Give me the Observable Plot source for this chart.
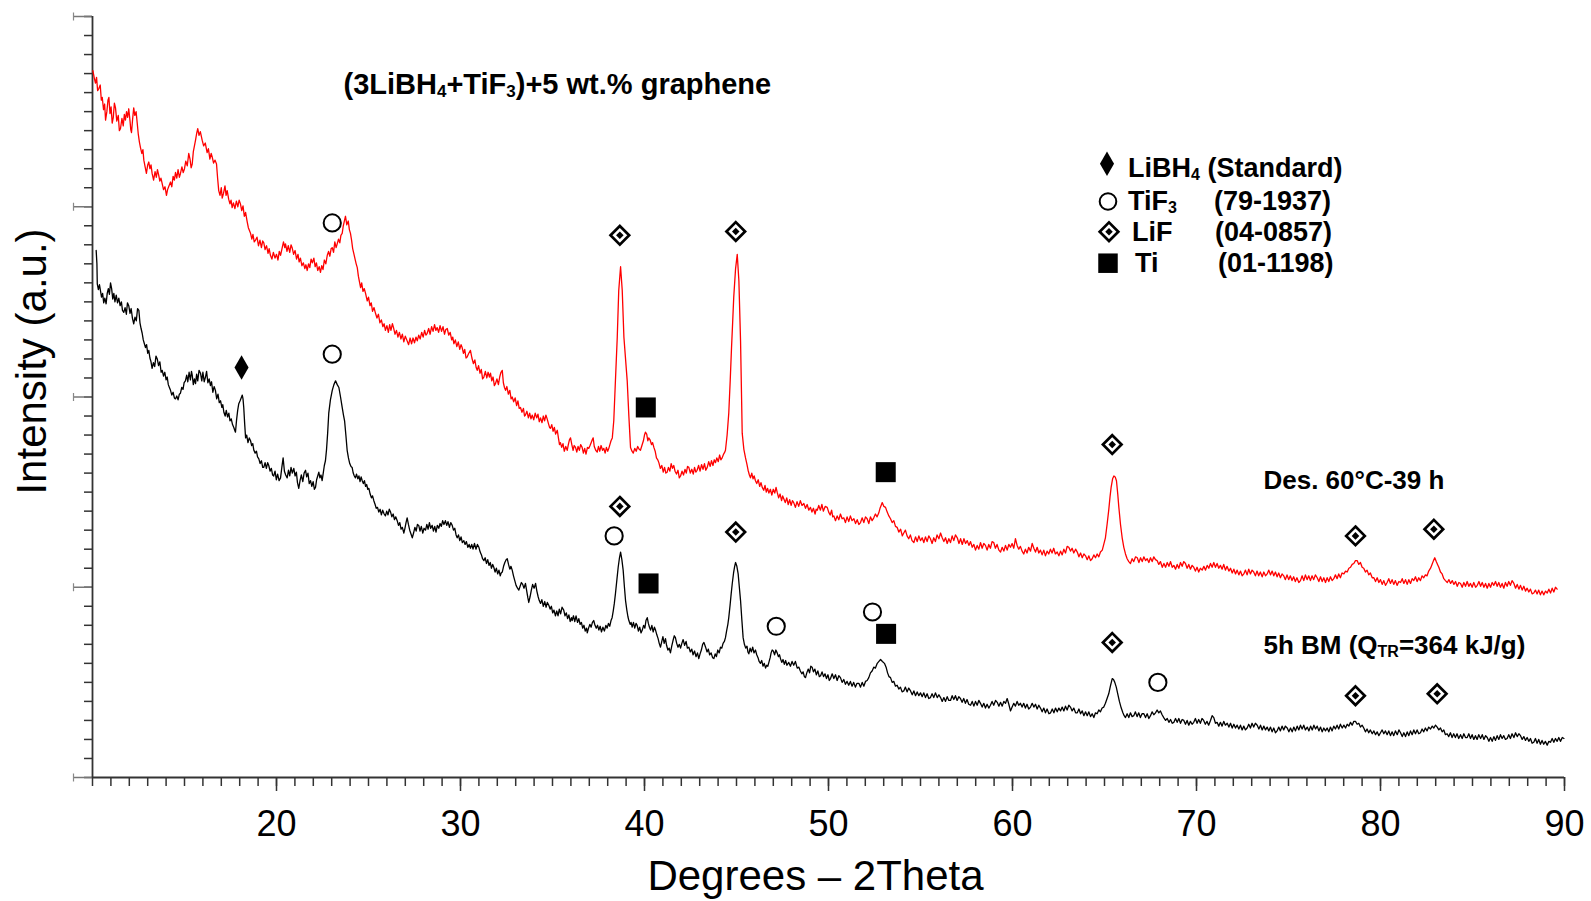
<!DOCTYPE html>
<html><head><meta charset="utf-8">
<script src="https://cdn.jsdelivr.net/npm/d3@7"></script>
<script src="https://cdn.jsdelivr.net/npm/@observablehq/plot@0.6"></script>
<style>
html,body{margin:0;padding:0;background:#fff;}
#chart{position:relative;width:1591px;height:901px;}
</style></head><body><div id="chart"></div>
<script>
// ---------- DATA ----------
// Des. 60°C-39 h pattern (red), flat list: 2θ, intensity (a.u.), 2θ, intensity, ...
const desorbedXY = [
10.02,743,10.10,735,10.16,730,10.22,736,10.28,722,10.34,724,10.42,728,10.48,712,10.53,715,10.60,702,10.66,708,10.71,691,10.78,700,10.84,712,10.89,715,10.95,698,11.01,705,11.07,688,11.13,694,11.19,709,
11.25,704,11.32,690,11.40,696,11.46,680,11.52,682,11.60,693,11.67,685,11.73,697,11.79,691,11.85,700,11.91,694,11.97,703,12.04,690,12.08,681,12.12,678,12.18,692,12.24,704,12.30,696,12.37,700,12.43,688,
12.49,676,12.55,668,12.61,662,12.68,656,12.74,660,12.79,649,12.86,642,12.93,635,13.00,644,13.06,647,13.12,640,13.18,644,13.24,635,13.32,628,13.40,637,13.47,631,13.53,639,13.60,633,13.66,627,13.72,630,
13.79,624,13.86,618,13.94,621,14.02,612,14.08,618,14.16,622,14.24,626,14.31,621,14.38,632,14.45,628,14.51,636,14.58,630,14.65,639,14.72,631,14.78,635,14.86,642,14.93,636,15.00,640,15.07,648,15.15,643,
15.23,656,15.30,650,15.36,641,15.42,645,15.48,658,15.54,664,15.60,670,15.66,677,15.72,682,15.79,675,15.86,679,15.96,670,16.04,664,16.13,667,16.23,657,16.30,661,16.38,650,16.45,656,16.51,652,16.58,646,
16.66,649,16.74,645,16.80,630,16.86,617,16.93,612,17.00,620,17.05,609,17.12,614,17.20,622,17.26,612,17.32,617,17.40,608,17.47,603,17.53,607,17.59,599,17.66,604,17.74,598,17.82,606,17.90,600,17.97,607,
18.04,603,18.11,596,18.18,601,18.25,590,18.32,594,18.40,585,18.47,578,18.53,575,18.59,572,18.66,566,18.72,571,18.79,563,18.86,565,18.94,568,19.02,559,19.10,565,19.18,557,19.25,564,19.31,562,19.38,555,
19.46,559,19.54,551,19.60,556,19.67,549,19.75,545,19.83,552,19.92,546,20.00,550,20.08,544,20.15,553,20.22,549,20.30,556,20.38,563,20.45,557,20.49,561,20.57,553,20.64,559,20.72,552,20.79,560,20.85,557,
20.93,550,21.01,554,21.09,545,21.17,550,21.23,542,21.30,546,21.38,538,21.46,541,21.54,535,21.60,539,21.67,533,21.74,540,21.81,536,21.88,545,21.95,541,22.03,546,22.10,537,22.17,541,22.24,533,22.32,537,
22.39,531,22.46,538,22.53,534,22.60,544,22.68,540,22.76,549,22.83,553,22.90,548,22.97,556,23.03,557,23.10,552,23.17,563,23.24,557,23.30,561,23.37,566,23.44,562,23.50,570,23.57,572,23.63,580,23.70,586,
23.75,590,23.82,581,23.90,585,23.96,576,24.02,572,24.08,565,24.14,556,24.20,551,24.27,545,24.33,540,24.39,536,24.45,527,24.51,521,24.57,515,24.63,520,24.70,511,24.77,514,24.84,509,24.93,501,25.00,505,
25.08,496,25.15,499,25.22,490,25.30,494,25.38,488,25.46,483,25.54,487,25.62,478,25.70,481,25.78,474,25.85,477,25.92,470,26.00,475,26.08,468,26.15,476,26.22,470,26.30,477,26.36,473,26.44,466,26.52,470,
26.60,463,26.68,468,26.76,461,26.84,466,26.92,458,27.00,464,27.10,459,27.18,455,27.26,462,27.34,456,27.42,462,27.50,457,27.58,463,27.65,459,27.73,465,27.81,461,27.89,468,27.97,463,28.05,470,28.12,465,
28.19,467,28.27,472,28.35,466,28.43,474,28.51,469,28.59,476,28.66,470,28.73,473,28.81,468,28.89,475,28.97,469,29.05,474,29.13,466,29.20,471,29.28,472,29.36,465,29.44,468,29.52,460,29.58,463,29.64,456,
29.72,460,29.80,453,29.88,458,29.96,450,30.03,455,30.09,452,30.16,446,30.23,450,30.30,441,30.36,442,30.45,446,30.54,449,30.62,441,30.70,435,30.78,439,30.85,431,30.91,428,30.98,433,31.06,425,31.13,429,
31.20,419,31.27,421,31.35,427,31.43,420,31.50,426,31.57,421,31.63,425,31.70,417,31.77,421,31.84,412,31.90,414,31.98,419,32.06,413,32.13,421,32.20,426,32.27,428,32.33,415,32.39,410,32.45,407,32.52,411,
32.60,403,32.68,407,32.75,398,32.81,400,32.89,395,32.97,399,33.05,391,33.12,396,33.19,388,33.26,389,33.34,384,33.42,388,33.48,380,33.53,381,33.61,385,33.69,378,33.76,383,33.83,377,33.90,381,33.98,376,
34.06,383,34.14,378,34.21,382,34.28,374,34.35,378,34.43,373,34.50,380,34.57,375,34.64,381,34.71,377,34.78,372,34.84,368,34.89,367,34.96,371,35.03,364,35.10,368,35.17,361,35.26,365,35.33,356,35.38,350,
35.43,352,35.50,347,35.57,351,35.64,343,35.72,348,35.80,344,35.86,350,35.92,355,35.98,357,36.05,350,36.12,344,36.18,349,36.25,347,36.32,342,36.39,348,36.46,344,36.53,350,36.61,347,36.68,341,36.75,346,
36.82,340,36.90,347,36.97,346,37.04,349,37.10,352,37.16,355,37.21,357,37.27,348,37.35,344,37.43,342,37.50,348,37.57,343,37.64,349,37.72,344,37.79,346,37.86,341,37.93,347,38.00,343,38.06,346,38.12,350,
38.18,354,38.25,357,38.33,375,38.42,417,38.52,463,38.60,512,38.70,537,38.79,512,38.88,463,38.97,440,39.06,417,39.15,380,39.24,347,39.32,343,39.39,341,39.47,346,39.55,343,39.63,348,39.71,345,39.78,344,
39.86,349,39.94,354,40.00,360,40.05,363,40.12,361,40.18,354,40.23,357,40.30,355,40.38,350,40.44,352,40.51,347,40.58,343,40.65,336,40.72,334,40.78,331,40.86,325,40.94,328,41.02,321,41.09,326,41.16,320,
41.23,321,41.30,326,41.38,322,41.45,330,41.52,325,41.59,328,41.66,322,41.74,319,41.82,323,41.89,315,41.96,317,42.04,322,42.12,318,42.20,324,42.27,320,42.34,327,42.41,326,42.49,320,42.57,324,42.65,319,
42.72,326,42.79,321,42.86,323,42.94,328,43.02,322,43.10,329,43.18,324,43.26,330,43.33,323,43.41,326,43.49,332,43.57,327,43.64,333,43.72,328,43.79,334,43.86,331,43.93,336,44.01,332,44.08,339,44.15,334,
44.22,336,44.30,340,44.36,342,44.40,344,44.49,360,44.58,383,44.66,418,44.73,452,44.79,478,44.85,505,44.95,535,45.04,550,45.13,522,45.22,459,45.31,362,45.40,345,45.49,336,45.56,330,45.63,323,45.70,318,
45.76,315,45.83,320,45.90,314,45.96,317,46.03,312,46.10,309,46.18,313,46.26,306,46.33,310,46.40,305,46.48,302,46.55,307,46.62,300,46.69,304,46.76,299,46.84,303,46.92,297,47.00,303,47.08,299,47.15,305,
47.21,300,47.29,294,47.37,298,47.45,291,47.51,296,47.57,293,47.65,289,47.73,294,47.81,287,47.89,292,47.97,286,48.04,291,48.11,289,48.20,284,48.29,290,48.38,285,48.47,291,48.56,286,48.66,288,48.75,283,
48.84,287,48.93,281,49.02,284,49.10,279,49.18,283,49.27,277,49.33,282,49.39,281,49.47,286,49.56,281,49.64,287,49.72,280,49.82,285,49.93,284,50.01,279,50.09,276,50.17,281,50.23,274,50.29,275,50.38,270,
50.47,275,50.56,271,50.65,277,50.74,272,50.83,273,50.92,268,51.01,274,51.10,269,51.19,275,51.28,270,51.38,272,51.47,267,51.56,271,51.65,266,51.74,268,51.83,273,51.92,268,52.01,274,52.10,272,52.19,267,
52.28,274,52.37,270,52.46,273,52.55,277,52.64,274,52.73,278,52.80,283,52.86,286,52.92,289,53.01,285,53.10,284,53.19,279,53.28,275,53.37,272,53.46,268,53.55,270,53.64,264,53.73,263,53.82,258,53.92,261,
54.01,254,54.09,257,54.18,260,54.27,254,54.36,251,54.45,255,54.54,249,54.64,247,54.73,253,54.82,248,54.91,254,55.00,249,55.09,252,55.18,247,55.27,253,55.36,248,55.45,254,55.54,251,55.63,246,55.72,252,
55.81,248,55.90,255,56.00,251,56.09,257,56.18,252,56.27,248,56.36,252,56.45,246,56.54,251,56.63,247,56.72,254,56.81,249,56.90,255,57.00,252,57.09,246,57.18,251,57.27,245,57.36,251,57.45,246,57.54,249,
57.63,244,57.72,248,57.81,242,57.90,245,57.99,239,58.08,244,58.17,240,58.26,247,58.35,241,58.44,246,58.53,244,58.62,239,58.71,245,58.80,241,58.89,248,58.98,247,59.07,241,59.16,245,59.26,239,59.35,237,
59.44,242,59.53,238,59.62,244,59.71,239,59.80,245,59.89,242,59.98,246,60.07,241,60.16,251,60.25,244,60.34,240,60.43,243,60.52,238,60.61,235,60.70,240,60.79,236,60.88,242,60.98,238,61.07,246,61.16,241,
61.25,237,61.34,242,61.43,236,61.52,239,61.61,234,61.70,239,61.79,233,61.88,238,61.97,235,62.06,240,62.15,236,62.24,241,62.33,235,62.43,237,62.52,233,62.61,238,62.70,234,62.79,240,62.88,236,62.97,243,
63.06,242,63.15,238,63.24,241,63.33,236,63.43,240,63.52,237,63.61,232,63.70,236,63.79,231,63.88,235,63.97,233,64.06,229,64.15,233,64.24,228,64.33,230,64.42,234,64.51,231,64.60,235,64.69,232,64.78,237,
64.88,239,64.96,245,65.05,252,65.14,266,65.23,281,65.30,295,65.36,305,65.44,314,65.51,317,65.58,316,65.65,312,65.72,298,65.78,284,65.87,266,65.96,252,66.05,242,66.14,235,66.23,230,66.32,227,66.41,225,
66.50,230,66.59,227,66.69,232,66.78,231,66.87,226,66.96,231,67.05,227,67.14,232,67.23,228,67.32,230,67.41,226,67.50,231,67.59,227,67.68,232,67.77,229,67.86,228,67.95,224,68.04,227,68.14,221,68.23,225,
68.32,221,68.41,226,68.50,222,68.59,227,68.68,221,68.77,223,68.86,219,68.95,224,69.04,220,69.13,226,69.22,222,69.31,227,69.40,225,69.49,220,69.58,224,69.67,219,69.76,223,69.85,221,69.94,217,70.03,221,
70.12,216,70.21,220,70.31,218,70.40,222,70.49,218,70.58,223,70.67,220,70.76,225,70.85,221,70.94,226,71.03,221,71.12,225,71.21,220,71.30,223,71.39,219,71.48,224,71.57,218,71.66,222,71.76,217,71.85,220,
71.94,215,72.03,219,72.12,214,72.21,218,72.30,213,72.39,217,72.48,212,72.57,214,72.66,218,72.75,213,72.84,219,72.93,214,73.02,218,73.11,216,73.20,212,73.29,217,73.38,212,73.47,216,73.57,211,73.66,216,
73.75,212,73.84,214,73.93,218,74.02,213,74.11,217,74.20,212,74.29,216,74.38,211,74.47,215,74.56,210,74.65,214,74.74,212,74.83,208,74.92,213,75.01,208,75.10,212,75.19,207,75.28,211,75.37,206,75.46,210,
75.56,205,75.65,207,75.74,212,75.83,207,75.92,213,76.01,208,76.10,212,76.19,207,76.28,212,76.37,208,76.46,213,76.56,210,76.65,206,76.74,211,76.83,206,76.92,210,77.01,205,77.10,210,77.19,206,77.28,211,
77.37,207,77.46,209,77.55,213,77.64,209,77.73,214,77.82,210,77.91,215,78.01,214,78.10,217,78.19,216,78.28,220,78.37,221,78.46,224,78.55,225,78.64,228,78.73,228,78.82,224,78.91,226,79.00,221,79.09,220,
79.18,216,79.27,218,79.36,213,79.45,215,79.55,210,79.64,210,79.73,206,79.82,210,79.91,205,80.00,208,80.09,203,80.18,207,80.27,202,80.36,205,80.45,209,80.54,204,80.63,208,80.72,203,80.81,207,80.90,202,
81.00,206,81.09,205,81.18,209,81.27,204,81.36,208,81.45,203,81.54,208,81.63,204,81.72,209,81.81,207,81.90,211,81.99,206,82.08,210,82.17,207,82.26,212,82.35,210,82.44,213,82.53,212,82.62,217,82.72,220,
82.80,224,82.88,228,82.95,231,83.03,227,83.10,224,83.17,221,83.26,216,83.35,214,83.44,209,83.53,207,83.63,205,83.72,208,83.81,204,83.90,207,83.99,203,84.08,206,84.17,201,84.26,205,84.35,204,84.44,200,
84.53,205,84.62,201,84.71,206,84.80,201,84.89,204,84.98,200,85.07,205,85.17,200,85.26,202,85.35,206,85.44,201,85.53,205,85.62,200,85.71,204,85.80,199,85.89,204,85.98,200,86.07,205,86.16,202,86.25,206,
86.34,201,86.43,205,86.52,200,86.61,204,86.70,199,86.79,205,86.88,201,86.97,206,87.06,202,87.15,207,87.25,204,87.34,199,87.43,203,87.52,198,87.61,202,87.70,197,87.79,201,87.88,196,87.97,199,88.06,195,
88.15,198,88.24,193,88.33,194,88.42,197,88.51,193,88.60,197,88.69,192,88.78,196,88.87,192,88.97,196,89.06,194,89.15,198,89.24,194,89.33,199,89.42,195,89.51,200,89.60,198
];

// 5h BM pattern (black), flat list: 2θ, intensity (a.u.), ...
const ballMilledXY = [
10.20,554,10.24,540,10.26,519,10.32,513,10.38,518,10.43,512,10.49,505,10.55,509,10.61,499,10.67,504,10.74,498,10.80,509,10.86,514,10.92,508,10.98,520,11.04,514,11.10,503,11.16,509,11.22,500,11.29,507,
11.36,499,11.43,504,11.50,496,11.57,500,11.63,491,11.70,489,11.77,494,11.84,487,11.90,499,11.97,496,12.04,488,12.10,493,12.17,483,12.24,477,12.31,484,12.38,480,12.45,493,12.52,491,12.58,478,12.64,472,
12.70,467,12.76,460,12.82,456,12.88,452,12.94,455,13.00,446,13.06,449,13.12,441,13.18,437,13.24,430,13.31,436,13.38,432,13.45,443,13.52,440,13.59,433,13.66,437,13.73,426,13.79,428,13.86,422,13.93,426,
14.00,418,14.06,421,14.12,413,14.18,410,14.24,407,14.31,402,14.38,405,14.45,399,14.51,398,14.58,401,14.65,397,14.72,403,14.78,404,14.85,410,14.92,408,14.98,415,15.05,417,15.12,423,15.18,416,15.25,426,
15.32,418,15.38,427,15.42,423,15.48,413,15.54,419,15.60,414,15.66,424,15.72,417,15.79,428,15.87,425,15.94,417,16.00,426,16.07,416,16.14,421,16.20,427,16.27,415,16.34,419,16.41,412,16.47,416,16.54,405,
16.61,411,16.68,407,16.75,398,16.82,403,16.89,394,16.96,396,17.03,389,17.08,392,17.14,384,17.21,380,17.27,386,17.34,379,17.41,383,17.47,375,17.54,377,17.61,371,17.68,368,17.73,365,17.77,363,17.83,376,
17.89,386,17.95,393,18.02,396,18.08,399,18.14,402,18.18,398,18.22,389,18.27,372,18.32,357,18.38,360,18.45,352,18.52,357,18.59,354,18.65,349,18.71,351,18.77,344,18.84,341,18.91,343,18.97,337,19.04,335,
19.11,330,19.18,333,19.25,326,19.31,326,19.38,331,19.45,325,19.52,331,19.58,328,19.65,322,19.72,325,19.79,318,19.85,317,19.92,322,19.99,313,20.06,319,20.14,312,20.22,315,20.29,326,20.36,336,20.43,322,
20.50,318,20.58,315,20.65,323,20.72,317,20.79,326,20.86,320,20.94,325,21.01,317,21.08,321,21.14,310,21.21,304,21.28,312,21.35,318,21.43,311,21.50,320,21.58,323,21.64,316,21.71,320,21.78,309,21.85,312,
21.92,306,21.99,311,22.06,303,22.12,305,22.18,313,22.24,317,22.30,321,22.36,315,22.42,318,22.48,312,22.54,320,22.60,328,22.66,333,22.72,345,22.78,362,22.84,383,22.93,397,23.03,407,23.12,413,23.21,417,
23.30,413,23.39,410,23.48,400,23.57,389,23.64,381,23.70,375,23.77,360,23.84,344,23.91,336,23.98,330,24.05,327,24.11,326,24.17,320,24.23,317,24.29,315,24.35,319,24.42,314,24.48,317,24.54,311,24.60,316,
24.66,312,24.72,309,24.78,312,24.84,306,24.90,308,24.96,303,25.02,304,25.09,298,25.16,294,25.22,296,25.29,291,25.36,287,25.42,283,25.49,284,25.56,279,25.63,282,25.70,276,25.77,281,25.85,277,25.92,275,
25.99,280,26.06,276,26.13,282,26.20,279,26.27,274,26.34,277,26.41,271,26.48,274,26.56,270,26.63,265,26.70,268,26.77,261,26.84,263,26.92,257,26.98,262,27.04,268,27.10,273,27.17,266,27.24,260,27.31,256,
27.38,252,27.45,257,27.52,263,27.59,259,27.66,266,27.73,265,27.80,259,27.87,264,27.95,257,28.02,262,28.10,260,28.17,266,28.24,261,28.31,268,28.38,262,28.46,265,28.53,259,28.60,264,28.67,258,28.74,265,
28.82,262,28.89,267,28.96,264,29.03,270,29.10,266,29.18,270,29.25,265,29.32,269,29.40,263,29.47,268,29.55,265,29.62,260,29.69,262,29.76,255,29.82,252,29.89,255,29.96,249,30.03,253,30.10,247,30.18,249,
30.25,245,30.32,248,30.40,242,30.47,245,30.54,241,30.61,245,30.68,240,30.76,246,30.84,240,30.92,245,31.00,242,31.07,237,31.14,234,31.20,230,31.27,228,31.34,231,31.41,225,31.48,229,31.55,223,31.62,226,
31.68,220,31.75,224,31.81,221,31.88,216,31.95,220,32.02,214,32.09,218,32.16,212,32.21,215,32.27,216,32.34,222,32.41,226,32.48,229,32.54,230,32.61,224,32.68,219,32.74,222,32.81,218,32.88,212,32.95,207,
33.02,202,33.10,199,33.17,197,33.24,201,33.31,205,33.38,203,33.45,199,33.53,204,33.60,196,33.66,189,33.71,184,33.78,190,33.85,197,33.92,203,34.00,199,34.08,204,34.15,196,34.22,190,34.28,186,34.35,183,
34.42,187,34.50,180,34.58,185,34.65,179,34.72,184,34.80,181,34.87,177,34.94,180,35.01,173,35.08,176,35.16,170,35.23,175,35.30,170,35.37,177,35.44,172,35.52,179,35.61,176,35.68,170,35.75,173,35.82,167,
35.89,171,35.96,164,36.03,168,36.07,165,36.14,170,36.21,164,36.28,170,36.36,163,36.43,167,36.50,161,36.57,163,36.64,157,36.71,160,36.78,154,36.85,157,36.89,152,36.96,157,37.03,161,37.10,158,37.17,163,
37.24,165,37.31,160,37.38,157,37.45,160,37.52,155,37.59,159,37.66,153,37.74,158,37.82,154,37.90,160,37.97,157,38.04,162,38.11,159,38.18,165,38.24,168,38.30,175,38.36,183,38.42,193,38.50,208,38.57,221,
38.64,231,38.70,237,38.77,229,38.84,218,38.91,200,38.97,186,39.04,176,39.10,169,39.15,165,39.22,161,39.27,163,39.33,158,39.40,163,39.47,157,39.54,162,39.60,160,39.67,154,39.74,158,39.81,152,39.88,155,
39.95,160,40.02,157,40.08,165,40.15,168,40.21,162,40.27,158,40.33,155,40.40,160,40.47,153,40.54,158,40.60,155,40.67,150,40.74,146,40.80,141,40.87,137,40.94,143,41.00,148,41.07,141,41.14,146,41.20,139,
41.27,134,41.34,136,41.41,131,41.48,138,41.55,144,41.62,149,41.68,147,41.75,141,41.82,137,41.89,140,41.96,136,42.03,141,42.10,145,42.18,139,42.26,143,42.33,136,42.41,137,42.49,132,42.57,135,42.64,129,
42.72,133,42.80,127,42.88,131,42.95,125,43.02,130,43.09,134,43.16,140,43.23,142,43.32,137,43.40,132,43.47,135,43.54,129,43.62,131,43.70,126,43.77,125,43.84,130,43.91,127,43.98,134,44.06,131,44.13,137,
44.20,136,44.27,141,44.34,143,44.40,147,44.47,155,44.53,161,44.58,168,44.65,181,44.71,193,44.77,204,44.84,215,44.90,222,44.95,226,45.02,222,45.09,214,45.15,201,45.22,186,45.29,166,45.36,147,45.43,140,
45.50,136,45.57,138,45.62,132,45.67,130,45.74,136,45.81,132,45.88,137,45.95,131,46.03,134,46.10,129,46.17,126,46.23,122,46.30,120,46.37,123,46.44,117,46.51,120,46.58,115,46.64,118,46.70,117,46.76,121,
46.83,126,46.88,131,46.94,134,47.00,133,47.07,129,47.14,134,47.21,131,47.28,127,47.34,129,47.39,125,47.46,121,47.53,124,47.60,119,47.67,123,47.74,118,47.84,121,47.93,117,48.02,122,48.11,118,48.20,122,
48.30,115,48.39,116,48.47,112,48.55,109,48.62,111,48.69,106,48.75,105,48.82,110,48.90,114,48.97,110,49.04,117,49.11,116,49.18,111,49.26,114,49.34,108,49.42,112,49.50,106,49.57,107,49.65,111,49.73,106,
49.81,109,49.89,104,49.97,108,50.04,102,50.11,104,50.20,109,50.29,104,50.38,108,50.47,102,50.56,107,50.65,105,50.74,100,50.83,103,50.92,98,51.01,101,51.10,97,51.19,101,51.28,96,51.37,100,51.46,95,
51.55,99,51.65,99,51.74,95,51.83,100,51.92,96,52.01,101,52.10,102,52.19,105,52.28,110,52.37,112,52.46,116,52.55,115,52.65,120,52.74,122,52.83,124,52.93,122,53.04,120,53.13,116,53.21,110,53.29,106,
53.37,105,53.46,100,53.55,101,53.64,96,53.73,97,53.82,93,53.91,95,54.00,90,54.09,91,54.18,95,54.27,90,54.36,94,54.46,91,54.55,87,54.64,91,54.73,86,54.82,90,54.91,86,55.00,89,55.09,85,
55.18,89,55.27,84,55.36,88,55.45,83,55.54,84,55.63,88,55.72,84,55.81,89,55.91,84,56.00,87,56.09,84,56.18,80,56.27,84,56.36,80,56.45,85,56.54,81,56.63,81,56.72,86,56.81,82,56.90,86,
56.99,81,57.08,85,57.17,83,57.26,79,57.35,83,57.44,78,57.53,82,57.62,77,57.72,76,57.81,80,57.90,75,57.99,80,58.08,76,58.17,81,58.26,78,58.35,74,58.44,78,58.53,73,58.62,77,58.71,73,
58.80,76,58.89,80,58.98,76,59.08,81,59.17,79,59.26,75,59.35,79,59.44,75,59.53,80,59.62,78,59.71,83,59.80,77,59.89,70,59.98,74,60.07,78,60.16,75,60.25,80,60.34,76,60.43,78,60.52,74,
60.61,78,60.70,73,60.79,77,60.88,72,60.98,74,61.07,78,61.16,74,61.25,77,61.34,72,61.43,76,61.52,73,61.61,69,61.70,73,61.79,68,61.88,72,61.98,67,62.07,68,62.16,72,62.25,68,62.34,73,
62.43,69,62.52,73,62.61,70,62.70,74,62.79,70,62.88,75,62.97,71,63.06,76,63.15,74,63.24,70,63.33,73,63.43,68,63.52,68,63.61,72,63.70,67,63.79,70,63.88,65,63.97,69,64.06,65,64.15,69,
64.24,64,64.33,67,64.42,63,64.51,68,64.60,67,64.69,71,64.78,69,64.87,73,64.96,74,65.05,78,65.14,83,65.23,88,65.32,96,65.42,104,65.49,103,65.56,100,65.64,95,65.72,88,65.81,80,65.91,73,
66.00,68,66.07,65,66.14,63,66.23,67,66.32,63,66.41,68,66.50,64,66.59,65,66.68,69,66.77,64,66.86,68,66.95,63,67.04,67,67.14,67,67.23,63,67.32,67,67.41,62,67.50,65,67.59,69,67.68,66,
67.77,68,67.86,71,67.95,68,68.04,70,68.13,66,68.22,63,68.32,60,68.41,62,68.50,58,68.59,61,68.68,57,68.77,58,68.86,62,68.95,58,69.04,62,69.13,57,69.22,61,69.31,60,69.40,56,69.49,60,
69.58,55,69.67,59,69.76,56,69.85,58,69.94,62,70.03,57,70.12,61,70.21,57,70.30,62,70.39,60,70.48,56,70.57,59,70.66,55,70.76,60,70.85,65,70.94,63,71.03,57,71.12,58,71.21,54,71.30,58,
71.39,54,71.48,59,71.57,55,71.67,57,71.76,53,71.85,57,71.94,52,72.03,56,72.12,52,72.21,55,72.30,51,72.39,55,72.48,50,72.57,54,72.66,50,72.75,52,72.84,56,72.93,52,73.02,57,73.11,53,
73.20,57,73.30,55,73.39,51,73.48,55,73.57,50,73.66,54,73.75,50,73.84,53,73.93,49,74.02,53,74.11,48,74.20,52,74.29,47,74.38,49,74.47,53,74.56,49,74.65,54,74.74,50,74.83,54,74.93,52,
75.02,48,75.11,52,75.20,48,75.29,53,75.38,49,75.47,54,75.56,50,75.65,55,75.74,51,75.83,55,75.92,50,76.02,53,76.11,49,76.20,54,76.29,50,76.38,55,76.47,51,76.56,54,76.65,49,76.74,53,
76.83,48,76.92,52,77.01,49,77.10,52,77.19,48,77.28,53,77.37,49,77.46,54,77.55,51,77.64,55,77.73,51,77.82,56,77.92,52,78.01,55,78.10,52,78.19,56,78.28,54,78.37,58,78.46,55,78.55,59,
78.64,59,78.73,56,78.82,57,78.91,53,79.00,55,79.09,52,79.18,48,79.27,51,79.36,47,79.45,50,79.55,46,79.64,49,79.73,45,79.82,48,79.91,44,80.00,47,80.09,50,80.18,46,80.27,49,80.36,45,
80.45,49,80.54,44,80.63,48,80.72,44,80.81,49,80.91,45,81.00,50,81.09,47,81.18,43,81.27,47,81.36,43,81.45,48,81.54,44,81.63,49,81.72,45,81.81,50,81.90,46,81.99,50,82.08,46,82.17,47,
82.26,51,82.35,48,82.44,52,82.53,49,82.62,53,82.72,51,82.81,54,82.90,52,82.99,55,83.08,53,83.17,50,83.26,52,83.35,48,83.44,50,83.53,45,83.62,46,83.71,43,83.80,47,83.89,42,83.98,46,
84.07,42,84.16,46,84.25,41,84.35,45,84.44,41,84.53,46,84.62,42,84.71,42,84.80,46,84.89,41,84.98,45,85.07,40,85.16,44,85.25,40,85.34,45,85.44,41,85.53,45,85.62,40,85.71,44,85.80,42,
85.89,38,85.98,42,86.07,38,86.16,43,86.25,39,86.34,44,86.43,40,86.52,45,86.61,41,86.70,44,86.79,40,86.88,41,86.97,45,87.06,41,87.15,46,87.25,42,87.34,47,87.43,43,87.52,46,87.61,44,
87.70,40,87.79,43,87.88,39,87.97,42,88.06,38,88.15,41,88.24,36,88.33,37,88.42,41,88.51,36,88.60,40,88.69,35,88.78,39,88.87,35,88.96,38,89.06,34,89.15,38,89.24,37,89.33,41,89.42,37,
89.51,41,89.60,38,89.69,42,89.78,38,89.88,42,89.97,41
];

// Phase identification markers: [2θ, marker height a.u.]
const libh4Peaks = [[18.10,431]];
const tif3Peaks  = [[23.03,583],[23.03,445],[38.35,254],[47.16,159],[52.39,174],[67.90,100]];
const lifPeaks   = [[38.66,570],[44.96,574],[65.42,350],[78.64,254],[82.90,261],
                    [38.66,285],[44.96,258],[65.42,142],[78.64,86],[83.08,88]];
const tiPeaks    = [[40.07,389],[53.11,321],[40.22,204],[53.13,151]];

// Text annotations: [2θ, a.u., text, font size]
const annotations = [
  [23.64, 719, "(3LiBH_{4}+TiF_{3})+5 wt.% graphene", 29],
  [73.64, 303, "Des. 60°C-39 h", 26],
  [73.64, 130, "5h BM (Q_{TR}=364 kJ/g)", 26]
];

const legendItems = [
  {phase: "LiBH4", name: "LiBH_{4} (Standard)", card: ""},
  {phase: "TiF3",  name: "TiF_{3}", card: "(79-1937)"},
  {phase: "LiF",   name: "LiF", card: "(04-0857)"},
  {phase: "Ti",    name: "Ti", card: "(01-1198)"}
];

const xMajor = [20,30,40,50,60,70,80,90];
const xMinor = d3.range(10, 91, 1);
const yMajor = [0,200,400,600,800];
const yMinor = d3.range(0, 801, 20);

const toPoints = a => d3.range(0, a.length, 2).map(i => ({x: a[i], y: a[i + 1]}));
const desorbed = toPoints(desorbedXY);
const ballMilled = toPoints(ballMilledXY);

// ---------- CHART ----------
const FONT = "'Liberation Sans', Arial, Helvetica, sans-serif";
const vbar = {draw(ctx, size){ const h = Math.sqrt(size/Math.PI); ctx.moveTo(0,-h); ctx.lineTo(0,h); }};

const chart = Plot.plot({
  width: 1591, height: 901,
  marginLeft: 92, marginRight: 27, marginTop: 16, marginBottom: 124,
  style: {fontFamily: FONT, background: "#fff", overflow: "visible"},
  x: {domain: [10, 90]},
  y: {domain: [0, 800]},
  marks: [
    Plot.axisY({ticks: yMinor, tickSize: 8, text: null, label: null, stroke: "#333", strokeWidth: 1.5}),
    Plot.axisY({ticks: yMajor, tickSize: 19, text: null, label: null, stroke: "#777", strokeWidth: 1.5}),
    Plot.dot(yMajor, {y: d => d, frameAnchor: "left", dx: -19, symbol: vbar, r: 4, stroke: "#888", strokeWidth: 1.2}),
    Plot.axisX({ticks: xMinor, tickSize: 9, text: null, label: null, stroke: "#333", strokeWidth: 1.5}),
    Plot.axisX({ticks: xMajor, tickSize: 14, tickPadding: 19, fontSize: 36, label: null, stroke: "#333", strokeWidth: 1.5, fill: "#000"}),
    Plot.ruleX([10], {stroke: "#333", strokeWidth: 1.8}),
    Plot.ruleY([0], {stroke: "#333", strokeWidth: 1.8}),
    Plot.line(desorbed, {x: "x", y: "y", stroke: "#ff0000", strokeWidth: 1.3}),
    Plot.line(ballMilled, {x: "x", y: "y", stroke: "#000", strokeWidth: 1.3}),
    // phase markers
    Plot.dot(libh4Peaks, {x: d => d[0], y: d => d[1], symbol: "diamond", r: 7.4, fill: "#000"}),
    Plot.dot(tif3Peaks, {x: d => d[0], y: d => d[1], symbol: "circle", r: 8.6, fill: "none", stroke: "#000", strokeWidth: 2}),
    Plot.dot(lifPeaks, {x: d => d[0], y: d => d[1], symbol: "diamond2", r: 8.4, fill: "none", stroke: "#000", strokeWidth: 2.7}),
    Plot.dot(lifPeaks, {x: d => d[0], y: d => d[1], symbol: "diamond2", r: 3.4, fill: "#000", stroke: "none"}),
    Plot.dot(tiPeaks, {x: d => d[0], y: d => d[1], symbol: "square", r: 11.3, fill: "#000", stroke: "none"}),
    // labels
    Plot.text(annotations, {x: d => d[0], y: d => d[1], text: d => d[2], fontSize: d => d[3], textAnchor: "start", lineAnchor: "bottom", fontWeight: "bold", fill: "#000"}),
    // axis titles
    Plot.text(["Degrees \u2013 2Theta"], {frameAnchor: "bottom", dx: -13, dy: 112, lineAnchor: "bottom", fontSize: 42, fill: "#000"}),
    Plot.text(["Intensity (a.u.)"], {frameAnchor: "left", rotate: -90, dx: -47, dy: -35.5, lineAnchor: "bottom", textAnchor: "middle", fontSize: 42, fill: "#000"})
  ]
});

document.getElementById("chart").appendChild(chart);
const svg = d3.select(chart);

function richText(sel, str, size) {
  const sub = Math.round(size * 0.6), shift = Math.round(size * 0.1);
  sel.text(null);
  let down = false;
  for (const p of str.split(/(_\{[^}]*\})/)) {
    if (!p) continue;
    if (p.startsWith("_{")) {
      sel.append("tspan").attr("font-size", sub).attr("dy", shift).text(p.slice(2, -1));
      down = true;
    } else {
      const t = sel.append("tspan").text(p);
      if (down) { t.attr("dy", -shift); down = false; }
    }
  }
}
svg.selectAll("text").each(function() {
  const s = this.textContent;
  if (s.includes("_{")) {
    const fs = parseFloat(this.getAttribute("font-size") || getComputedStyle(this).fontSize) || 26;
    richText(d3.select(this), s, fs);
  }
});

// legend (top-right inside plot area)
const lg = svg.append("g").attr("font-family", FONT).attr("font-weight", "bold").attr("font-size", 27)
  .attr("fill", "#000").attr("text-anchor", "start");
const rowBase = [176.7, 210, 240.7, 271.7];
const nameX = [1128, 1128, 1132, 1135];
const cardX = [0, 1214, 1215, 1218];
legendItems.forEach((d, i) => {
  const by = rowBase[i];
  const g = lg.append("g");
  if (d.phase === "LiBH4") {
    g.append("path").attr("d", d3.symbol(d3.symbolDiamond, Math.PI * 7.4 * 7.4)()).attr("transform", `translate(1107,${by - 13})`).attr("fill", "#000");
  } else if (d.phase === "TiF3") {
    g.append("circle").attr("cx", 1108).attr("cy", by - 8.5).attr("r", 8.3).attr("fill", "none").attr("stroke", "#000").attr("stroke-width", 2);
  } else if (d.phase === "LiF") {
    g.append("path").attr("d", d3.symbol(d3.symbolDiamond2, Math.PI * 8.4 * 8.4)()).attr("transform", `translate(1109,${by - 9})`).attr("fill", "none").attr("stroke", "#000").attr("stroke-width", 2.7);
    g.append("path").attr("d", d3.symbol(d3.symbolDiamond2, Math.PI * 3.4 * 3.4)()).attr("transform", `translate(1109,${by - 9})`).attr("fill", "#000");
  } else {
    g.append("path").attr("d", d3.symbol(d3.symbolSquare, Math.PI * 11 * 11)()).attr("transform", `translate(1108,${by - 8.5})`).attr("fill", "#000");
  }
  richText(g.append("text").attr("x", nameX[i]).attr("y", by), d.name, 27);
  if (d.card) g.append("text").attr("x", cardX[i]).attr("y", by).text(d.card);
});
</script></body></html>
